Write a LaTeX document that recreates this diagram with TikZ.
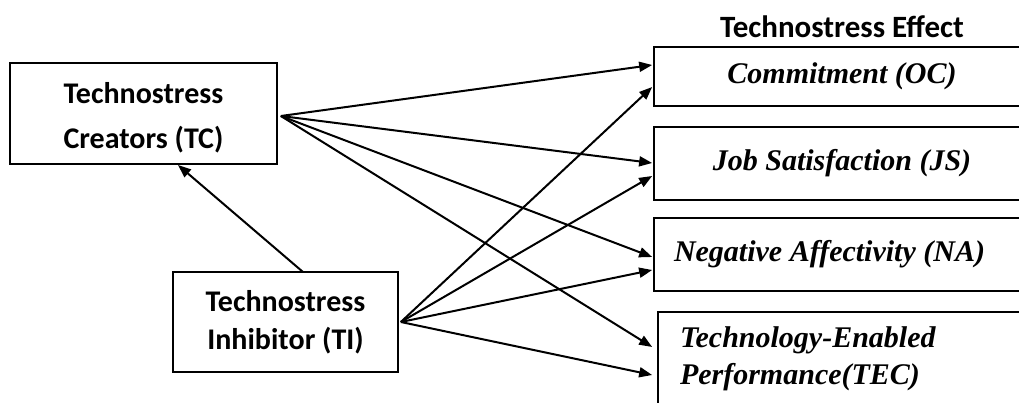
\documentclass[tikz,border=0pt]{standalone}
\usepackage{fontspec}
\setmainfont{Liberation Serif}
\newfontfamily\carl{Carlito}
\usetikzlibrary{arrows.meta,calc}
\begin{document}
\begin{tikzpicture}[x=1pt,y=-1pt,
  box/.style={draw, line width=1.7pt, inner sep=0pt},
  lbox/.style={box, font=\carl\bfseries\fontsize{30}{45}\selectfont, align=center},
  rbox/.style={box, font=\bfseries\itshape\fontsize{30}{37}\selectfont, align=center},
  arr/.style={line width=2pt, -{Triangle[length=13pt,width=10pt]}}]
\useasboundingbox (0,0) rectangle (1019,403);
\clip (0,0) rectangle (1019,403);
% left boxes
\node[lbox, minimum width=267pt, minimum height=101pt] (tc) at (143.5,113.5) {\rule{0pt}{30pt}Technostress\\Creators (TC)};
\node[lbox, minimum width=225pt, minimum height=100pt, font=\carl\bfseries\fontsize{30}{38}\selectfont] (ti) at (285.5,322) {Technostress\\Inhibitor (TI)};
% title
\node[font=\carl\bfseries\fontsize{31}{32}\selectfont] (title) at (842,27) {Technostress Effect};
% right boxes
\node[rbox, minimum width=376pt, minimum height=59pt] (oc) at (842,76.5) {\raisebox{-3pt}{Commitment (OC)}};
\node[rbox, minimum width=376pt, minimum height=73pt] (js) at (842,163.5) {Job Satisfaction (JS)};
\node[rbox, minimum width=376pt, minimum height=73pt] (na) at (842,254.5) {\raisebox{3pt}{\makebox[336pt][l]{Negative Affectivity (NA)}}};
\node[rbox, text width=328pt, inner xsep=22pt, minimum height=93pt, align=left] (tec) at (844,358.5) {Technology-Enabled\\Performance(TEC)};
% connector points
\coordinate (tco) at ($(tc.east)+(3,2.5)$);
\coordinate (tio) at ($(ti.east)+(2,0)$);
\coordinate (tit) at (303,272);
\coordinate (tcb) at (178,165);
\coordinate (oc1) at ($(oc.west)+(-1,-11.5)$);
\coordinate (oc2) at ($(oc.west)+(-1,10.5)$);
\coordinate (js1) at ($(js.west)+(-1,-0.5)$);
\coordinate (js2) at ($(js.west)+(-1,12.5)$);
\coordinate (na1) at ($(na.west)+(-1,2.5)$);
\coordinate (na2) at ($(na.west)+(-1,15.5)$);
\coordinate (tec1) at ($(tec.west)+(-5,-11.5)$);
\coordinate (tec2) at ($(tec.west)+(-5,16.5)$);
% connectors
\draw[arr] (tit) -- (tcb);
\draw[arr] (tco) -- (oc1);
\draw[arr] (tco) -- (js1);
\draw[arr] (tco) -- (na1);
\draw[arr] (tco) -- (tec1);
\draw[arr] (tio) -- (oc2);
\draw[arr] (tio) -- (js2);
\draw[arr] (tio) -- (na2);
\draw[arr] (tio) -- (tec2);
\end{tikzpicture}
\end{document}
